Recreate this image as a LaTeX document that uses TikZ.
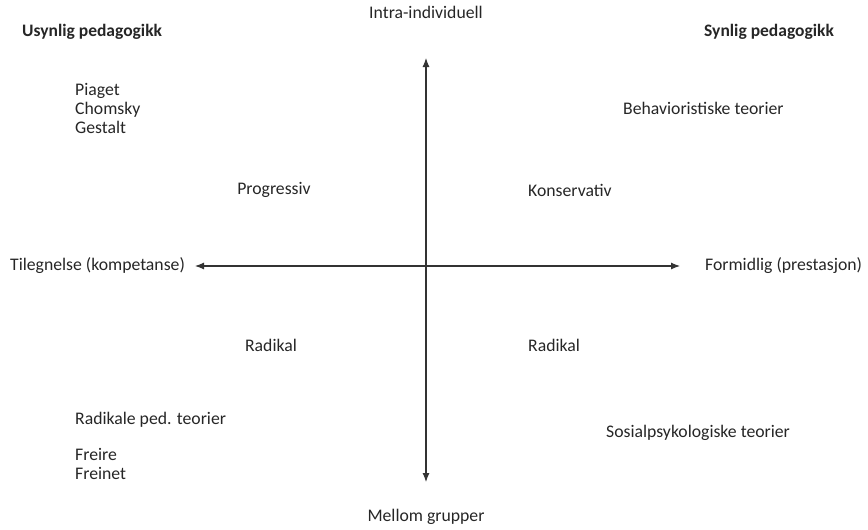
\documentclass[tikz,border=0pt]{standalone}
\usepackage{fontspec}
\setmainfont{Carlito}
\usepackage{tikz}
\usetikzlibrary{arrows.meta}
\usetikzlibrary{positioning}
\tikzset{lbl/.style = {inner sep = 0, text = black!85,
                       font = \fontsize{17.7}{19}\selectfont}}
\tikzset{hdr/.style = {lbl, font = \fontsize{17.5}{19}\selectfont\bfseries}}
\tikzset{axis/.style = {{Latex[length = 9pt, width = 7pt]}-{Latex[length = 9pt, width = 7pt]},
                        line width = 1.1pt, black!80}}

\begin{document}
\begin{tikzpicture}[x = 1pt, y = -1pt]
    \useasboundingbox (0, 0) rectangle (868, 530);
    \coordinate (top) at (426, 58);
    \coordinate (bottom) at (426, 482);
    \coordinate (left) at (195, 266);
    \coordinate (right) at (680, 266);
    \draw [axis] (top) -- (bottom);
    \draw [axis] (left) -- (right);
    \node (intra) at (426, 12) [lbl] {Intra-individuell};
    \node (mellom) at (426, 517) [lbl] {Mellom grupper};
    \node (tilegnelse) at (10, 266) [lbl, anchor = west] {Tilegnelse (kompetanse)};
    \node (formidlig) at (705, 266) [lbl, anchor = west] {Formidlig (prestasjon)};
    \node (usynlig) at (22, 32) [hdr, anchor = west] {Usynlig pedagogikk};
    \node (synlig) at (704, 32) [hdr, anchor = west] {Synlig pedagogikk};
    \node (piaget) at (75, 108) [lbl, anchor = west, align = left] {Piaget\\Chomsky\\Gestalt};
    \node (behav) at (623, 108) [lbl, anchor = west] {Behavioristiske teorier};
    \node (progressiv) at (274, 190) [lbl] {Progressiv};
    \node (konservativ) at (528, 190) [lbl, anchor = west] {Konservativ};
    \node (radikalv) at (271, 345) [lbl] {Radikal};
    \node (radikalh) at (528, 345) [lbl, anchor = west] {Radikal};
    \node (radikaleped) at (75, 446) [lbl, anchor = west, align = left]
        {Radikale ped. teorier\\[17pt]Freire\\Freinet};
    \node (sosial) at (606, 433) [lbl, anchor = west] {Sosialpsykologiske teorier};
  \end{tikzpicture}
\end{document}
